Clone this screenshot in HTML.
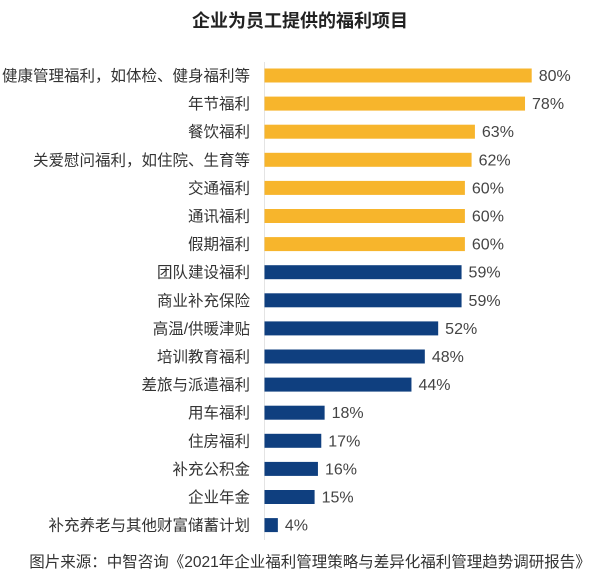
<!DOCTYPE html>
<html><head><meta charset="utf-8"><style>
body{margin:0;background:#fff;}
svg{display:block;font-family:"Liberation Sans","Noto Sans CJK SC",sans-serif;}
</style></head><body>
<svg id="c" width="600" height="581">
<text x="300" y="27" text-anchor="middle" font-size="18" font-weight="bold" fill="#222">企业为员工提供的福利项目</text>
<line x1="264.5" y1="62" x2="264.5" y2="540" stroke="#e4e4e4" stroke-width="1"/>
<g id="bars"></g>
<text x="310" y="567" text-anchor="middle" font-size="15.5" fill="#333">图片来源：中智咨询《2021年企业福利管理策略与差异化福利管理趋势调研报告》</text>
</svg>
<script>
const categories=["健康管理福利，如体检、健身福利等","年节福利","餐饮福利","关爱慰问福利，如住院、生育等","交通福利","通讯福利","假期福利","团队建设福利","商业补充保险","高温/供暖津贴","培训教育福利","差旅与派遣福利","用车福利","住房福利","补充公积金","企业年金","补充养老与其他财富储蓄计划"];
const values=[80,78,63,62,60,60,60,59,59,52,48,44,18,17,16,15,4];
const highlightCount=7;
const x0=264.5,xs=3.34,y0=75.5,dy=28.1,bh=14;
const xScale=v=>x0+v*xs;
const yScale=i=>y0+i*dy;
const g=document.getElementById('bars');
const ns='http://www.w3.org/2000/svg';
categories.forEach((c,i)=>{
  const y=yScale(i);
  const t=document.createElementNS(ns,'text');
  
  
  t.setAttribute('x',250);t.setAttribute('y',y+5.5);t.setAttribute('text-anchor','end');
  t.setAttribute('font-size','15.5');t.setAttribute('fill','#333');t.textContent=c;g.appendChild(t);
  const r=document.createElementNS(ns,'rect');
  
  
  r.setAttribute('x',x0);r.setAttribute('y',y-bh/2);r.setAttribute('height',bh);
  r.setAttribute('width',xScale(values[i])-x0);
  r.setAttribute('fill',i<highlightCount?'#f7b52c':'#0f3f7f');g.appendChild(r);
  const v=document.createElementNS(ns,'text');
  
  
  v.setAttribute('x',xScale(values[i])+7);v.setAttribute('y',y+5.5);
  v.setAttribute('font-size','16');v.setAttribute('fill','#444');v.textContent=values[i]+'%';g.appendChild(v);
});
</script>
</body></html>
